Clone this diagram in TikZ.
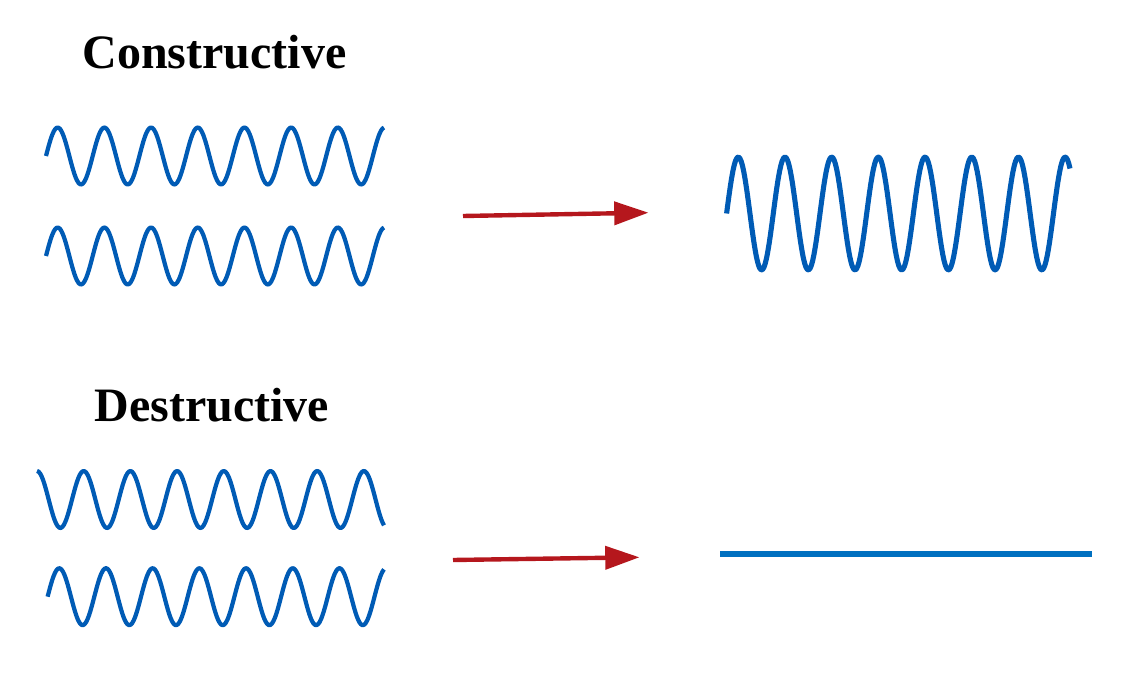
\documentclass[tikz,border=0pt]{standalone}
\usepackage{fontspec}
\setmainfont{Liberation Serif}
\usetikzlibrary{arrows.meta,positioning}
\definecolor{wavebl}{HTML}{005BB5}
\definecolor{flatbl}{HTML}{0070C0}
\definecolor{arrred}{HTML}{B5171D}
\tikzset{
  wave/.style={wavebl,line width=2.4pt,line join=round},
  redarrow/.style={-{Triangle[length=19.5pt,width=13pt]},arrred,line width=2.5pt},
  title/.style={font=\bfseries\fontsize{27.3}{30}\selectfont,anchor=base,inner sep=0pt}
}
\begin{document}
\begin{tikzpicture}[x=0.02cm,y=-0.02cm]
  \useasboundingbox (0,0) rectangle (1134,686);
  \node[title] (constr) at (214.5,68.5) {Constructive};
  \node[title] (destr) at (212,421.7) {Destructive};
  \foreach \cy/\xa/\ph in {156/46/0, 256/46/0, 499.5/37/90, 596.7/47.6/0}
  {
    \draw[wave] plot[domain=\xa:384,samples=220,smooth]
      (\x,{\cy-28.5*sin(7.709*(\x-\xa)+\ph)});
  }
  \draw[wave,line width=2.9pt] plot[domain=726.6:1070,samples=260,smooth]
    (\x,{213.5-56.5*sin(7.709*(\x-726.6))});
  \coordinate (flatL) at (720,554);
  \coordinate (flatR) at (1092,554);
  \draw[flatbl,line width=3.4pt] (flatL) -- (flatR);
  \coordinate (a1) at (463,216);
  \coordinate (b1) at (648.5,212.7);
  \coordinate (a2) at (453,560);
  \coordinate (b2) at (639.5,557.3);
  \draw[redarrow] (a1) -- (b1);
  \draw[redarrow] (a2) -- (b2);
\end{tikzpicture}
\end{document}
